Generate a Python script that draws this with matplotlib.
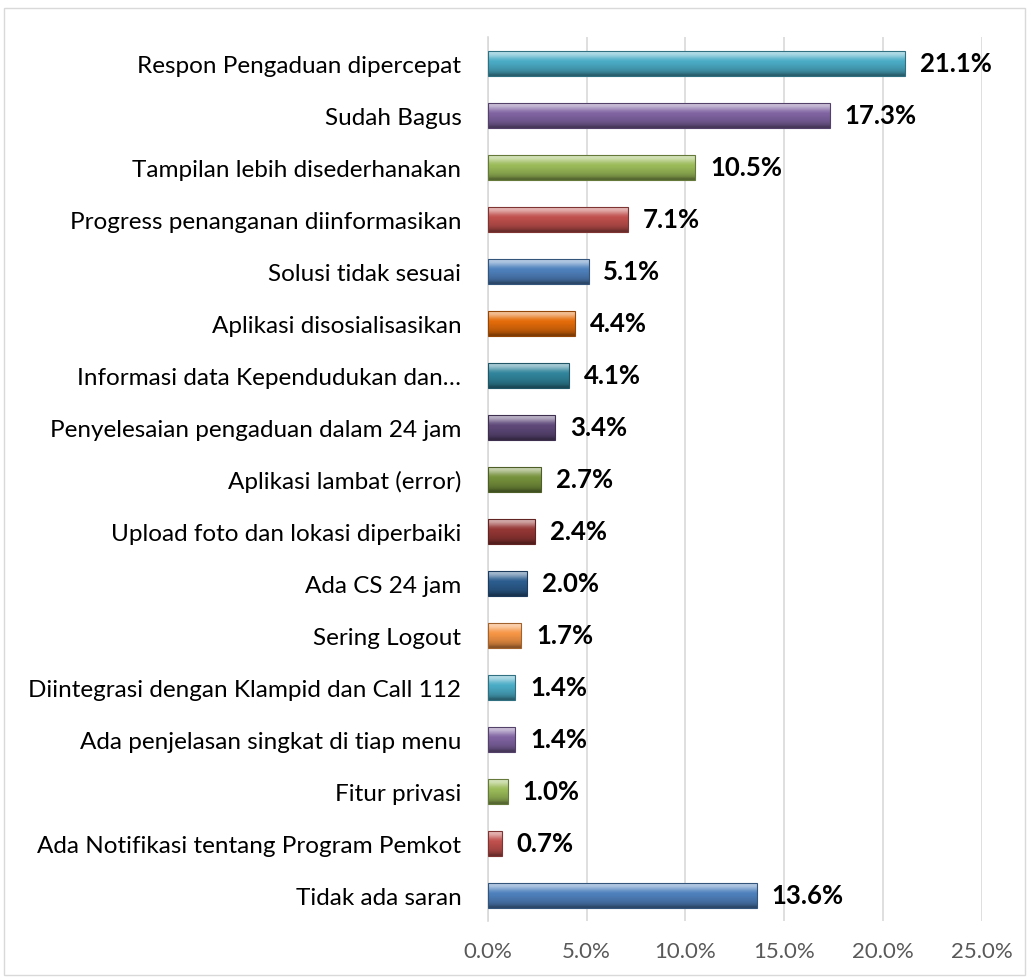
import numpy as np
import matplotlib
matplotlib.use("Agg")
import matplotlib.pyplot as plt
from matplotlib.colors import to_rgb
from matplotlib.patches import Rectangle

categories = [
    "Respon Pengaduan dipercepat",
    "Sudah Bagus",
    "Tampilan lebih disederhanakan",
    "Progress penanganan diinformasikan",
    "Solusi tidak sesuai",
    "Aplikasi disosialisasikan",
    "Informasi data Kependudukan dan\u2026",
    "Penyelesaian pengaduan dalam 24 jam",
    "Aplikasi lambat (error)",
    "Upload foto dan lokasi diperbaiki",
    "Ada CS 24 jam",
    "Sering Logout",
    "Diintegrasi dengan Klampid dan Call 112",
    "Ada penjelasan singkat di tiap menu",
    "Fitur privasi",
    "Ada Notifikasi tentang Program Pemkot",
    "Tidak ada saran",
]
values = [21.1, 17.3, 10.5, 7.1, 5.1, 4.4, 4.1, 3.4, 2.7, 2.4, 2.0, 1.7, 1.4, 1.4, 1.0, 0.7, 13.6]
colors = [
    "#4BACC6", "#8064A2", "#9BBB59", "#C0504D", "#4F81BD", "#E46C0A",
    "#31859C", "#5F497A", "#76923C", "#953735", "#2C5D8F", "#F79646",
    "#4BACC6", "#8064A2", "#9BBB59", "#C0504D", "#4F81BD",
]
ticks = [0, 5, 10, 15, 20, 25]

plt.rcParams['font.family'] = ['Lato', 'DejaVu Sans']

fig = plt.figure(figsize=(10.27, 9.78), dpi=100)
ax = fig.add_axes([0.475, 0.057, 0.481, 0.904])

y = np.arange(len(categories))
bars = ax.barh(y, values, height=0.48, color=colors, zorder=2)


def shade(c, f):
    r = np.array(to_rgb(c))
    if f > 0:
        return r + (1 - r) * f
    return r * (1 + f)


# bevel look: vertical gradient laid over each bar
prof = np.array([0.6, 0.5, 0.32, 0.12, 0.0, -0.03, -0.08, -0.12, -0.18, -0.28, -0.45])
for b, c in zip(bars, colors):
    x0, y0 = b.get_x(), b.get_y()
    w, h = b.get_width(), b.get_height()
    img = np.array([[shade(c, f)] for f in prof])
    ax.imshow(img, extent=(x0, x0 + w, y0 + h, y0), aspect="auto",
              interpolation="bilinear", zorder=3, clip_path=b, clip_on=True)
    b.set_edgecolor(shade(c, -0.35))
    b.set_linewidth(0.8)
    b.set_zorder(4)
    b.set_facecolor("none")

for v, yy in zip(values, y):
    ax.text(v + 0.75, yy, "{:.1f}%".format(v), va="center", ha="left",
            fontsize=18.5, fontweight="bold", color="black")

ax.set_yticks(y)
ax.set_yticklabels(categories, fontsize=17.5)
ax.set_ylim(len(categories) - 0.5, -0.5)
ax.set_xlim(0, 25)
ax.set_xticks(ticks)
ax.set_xticklabels(["{:.1f}%".format(t) for t in ticks], fontsize=16, color="#595959")
ax.tick_params(axis="x", length=0, pad=14)
ax.tick_params(axis="y", length=0, pad=19)
ax.xaxis.grid(True, color="#D9D9D9", linewidth=1.2, zorder=0)
ax.set_axisbelow(True)
for s in ["top", "right", "bottom"]:
    ax.spines[s].set_visible(False)
ax.spines["left"].set_color("#D9D9D9")
ax.spines["left"].set_linewidth(1.2)

fig.patches.append(Rectangle((0.004, 0.002), 0.994, 0.989, transform=fig.transFigure,
                             fill=False, edgecolor="#D9D9D9", linewidth=1))

fig.savefig("out.png", dpi=100)
